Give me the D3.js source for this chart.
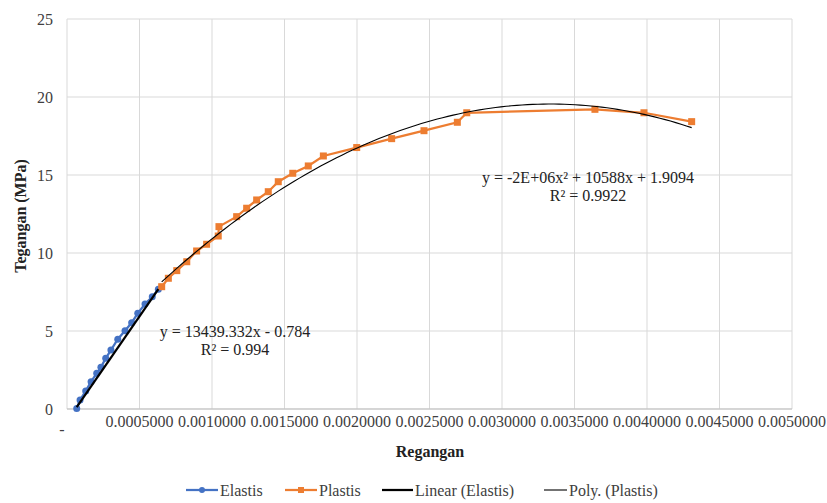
<!DOCTYPE html>
<html><head><meta charset="utf-8">
<script src="https://cdn.jsdelivr.net/npm/d3@7"></script>
<style>body{margin:0;background:#fff;font-family:'Liberation Serif'}svg{display:block;font-family:'Liberation Serif'}svg text{font-family:'Liberation Serif'}</style>
</head><body><svg id="c" width="827" height="503"></svg>
<script>
// Data (strain, stress MPa)
const elastisX = [0.000067,0.000090,0.000129,0.000166,0.000205,0.000234,0.000267,0.000303,0.000350,0.000400,0.000446,0.000488,0.000538,0.000588,0.000630];
const elastisY = [0.04,0.58,1.15,1.75,2.29,2.67,3.25,3.78,4.47,5.02,5.53,6.13,6.73,7.20,7.67];
const plastisX = [0.000653,0.000699,0.000757,0.000826,0.000894,0.000963,0.001043,0.001048,0.001170,0.001239,0.001308,0.001388,0.001457,0.001557,0.001664,0.001768,0.001998,0.002239,0.002462,0.002692,0.002757,0.003641,0.003979,0.004308];
const plastisY = [7.84,8.38,8.87,9.44,10.13,10.56,11.09,11.69,12.33,12.87,13.40,13.93,14.57,15.11,15.58,16.22,16.76,17.33,17.84,18.38,18.99,19.21,18.99,18.42];
const xTicks = [0,0.0005,0.001,0.0015,0.002,0.0025,0.003,0.0035,0.004,0.0045,0.005];
const yTicks = [0,5,10,15,20,25];
const linearCoef = {slope:13439.332, intercept:-0.784};
const polyCoef = {a:-1588800, b:10588, c:1.9094};
const eqLinear = ["y = 13439.332x - 0.784","R² = 0.994"];
const eqPoly = ["y = -2E+06x² + 10588x + 1.9094","R² = 0.9922"];
const legendItems = ["Elastis","Plastis","Linear (Elastis)","Poly. (Plastis)"];

const FONT = "Liberation Serif";
const svg = d3.select("#c");
const x = d3.scaleLinear().domain([0,0.005]).range([67,792]);
const y = d3.scaleLinear().domain([0,25]).range([409,19]);
const blue="#4472C4", orange="#ED7D31", txt="#404040";

// grid
svg.append("g").selectAll("line").data(xTicks).join("line")
  .attr("x1",d=>x(d)).attr("x2",d=>x(d)).attr("y1",y(0)).attr("y2",y(25))
  .attr("stroke","#d9d9d9").attr("stroke-width",1);
svg.append("g").selectAll("line").data(yTicks).join("line")
  .attr("x1",x(0)).attr("x2",x(0.005)).attr("y1",d=>y(d)).attr("y2",d=>y(d))
  .attr("stroke","#d9d9d9").attr("stroke-width",1);
svg.append("line").attr("x1",x(0)).attr("x2",x(0.005)).attr("y1",y(0)).attr("y2",y(0)).attr("stroke","#bfbfbf");

// axes labels
const fmt = d3.format(".7f");
svg.append("g").selectAll("text").data(xTicks).join("text")
  .attr("x",d=>d===0?62:x(d)).attr("y",d=>d===0?435:427)
  .attr("text-anchor","middle").style("font-size","16px").style("font-family",FONT).attr("fill",txt)
  .text(d=>d===0?"-":fmt(d));
svg.append("g").selectAll("text").data(yTicks).join("text")
  .attr("x",53).attr("y",d=>y(d)+5.5)
  .attr("text-anchor","end").style("font-size","16px").style("font-family",FONT).attr("fill",txt)
  .text(d=>d);
svg.append("text").attr("x",430).attr("y",457).attr("text-anchor","middle").style("font-family",FONT)
  .style("font-size","16px").style("font-weight","bold").attr("fill","#222").text("Regangan");
svg.append("text").attr("transform","translate(26,216) rotate(-90)").attr("text-anchor","middle").style("font-family",FONT)
  .style("font-size","16px").style("font-weight","bold").attr("fill","#222").text("Tegangan (MPa)");

const elastis = elastisX.map((v,i)=>[v,elastisY[i]]);
const plastis = plastisX.map((v,i)=>[v,plastisY[i]]);
const line = d3.line().x(d=>x(d[0])).y(d=>y(d[1]));

// series
svg.append("path").datum(elastis).attr("d",line).attr("fill","none").attr("stroke",blue).attr("stroke-width",2.25);
svg.append("g").selectAll("circle").data(elastis).join("circle")
  .attr("cx",d=>x(d[0])).attr("cy",d=>y(d[1])).attr("r",3.5).attr("fill",blue);
svg.append("path").datum(plastis).attr("d",line).attr("fill","none").attr("stroke",orange).attr("stroke-width",2.25);
svg.append("g").selectAll("rect").data(plastis).join("rect")
  .attr("x",d=>x(d[0])-3.5).attr("y",d=>y(d[1])-3.5).attr("width",7).attr("height",7).attr("fill",orange);

// trendlines
const xmin=d3.min(elastisX), xmax=d3.max(elastisX);
svg.append("path").datum([xmin,xmax].map(v=>[v,linearCoef.slope*v+linearCoef.intercept]))
  .attr("d",line).attr("fill","none").attr("stroke","#000").attr("stroke-width",2.25);
const pmin=d3.min(plastisX), pmax=d3.max(plastisX);
const polyPts = d3.range(0,101).map(i=>{const v=pmin+(pmax-pmin)*i/100;return [v,polyCoef.a*v*v+polyCoef.b*v+polyCoef.c];});
svg.append("path").datum(polyPts).attr("d",line).attr("fill","none").attr("stroke","#000").attr("stroke-width",1.1);

// equations
svg.append("g").selectAll("text").data(eqLinear).join("text")
  .attr("x",235).attr("y",(d,i)=>337+i*18).attr("text-anchor","middle").style("font-family",FONT)
  .style("font-size","16px").attr("fill","#222").text(d=>d);
svg.append("g").selectAll("text").data(eqPoly).join("text")
  .attr("x",588).attr("y",(d,i)=>183+i*18).attr("text-anchor","middle").style("font-family",FONT)
  .style("font-size","16px").attr("fill","#222").text(d=>d);

// legend
const lg = svg.append("g");
const lx = [186,285,382,544], lw=[32,32,31,23];
legendItems.forEach((name,i)=>{
  const ly=490;
  const col = i===0?blue:i===1?orange:"#000";
  lg.append("line").attr("x1",lx[i]).attr("x2",lx[i]+lw[i]).attr("y1",ly).attr("y2",ly)
    .attr("stroke",col).attr("stroke-width",i===3?1.1:2.25);
  if(i===0) lg.append("circle").attr("cx",lx[i]+lw[i]/2).attr("cy",ly).attr("r",3).attr("fill",blue);
  if(i===1) lg.append("rect").attr("x",lx[i]+lw[i]/2-3).attr("y",ly-3).attr("width",6).attr("height",6).attr("fill",orange);
  lg.append("text").attr("x",lx[i]+lw[i]+2).attr("y",ly+5.5).style("font-size","16px").style("font-family",FONT).attr("fill",txt).text(name);
});
</script></body></html>
